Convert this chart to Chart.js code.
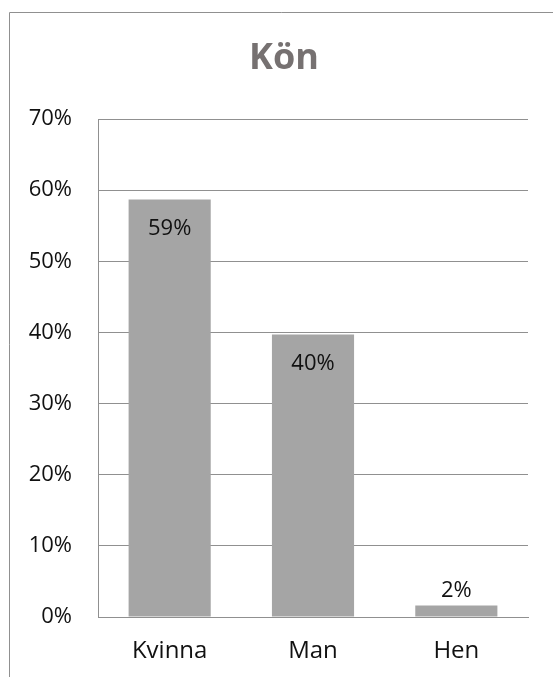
<!DOCTYPE html>
<html>
<head>
<meta charset="utf-8">
<script src="https://cdn.jsdelivr.net/npm/chart.js@4"></script>
<style>
  html, body { margin: 0; padding: 0; background: #fff; }
  #wrap { width: 553px; height: 677px; position: relative; }
</style>
</head>
<body>
<div id="wrap"><canvas id="konChart" width="553" height="677"></canvas></div>
<script>
// data
const categories = ["Kvinna", "Man", "Hen"];
const shares = [0.587, 0.397, 0.016];
const yTicks = [0, 0.1, 0.2, 0.3, 0.4, 0.5, 0.6, 0.7];
const chartTitle = "Kön";

const FONT = "'Open Sans', 'DejaVu Sans', sans-serif";
const LINE = "#909090";

// outer chart border + title + value labels
const decor = {
    id: "decor",
    afterDraw(chart) {
        const ctx = chart.ctx;
        ctx.save();
        ctx.strokeStyle = LINE;
        ctx.lineWidth = 1;
        ctx.beginPath();
        ctx.moveTo(9.5, 677);
        ctx.lineTo(9.5, 12.5);
        ctx.lineTo(553, 12.5);
        ctx.stroke();

        ctx.fillStyle = "#767171";
        ctx.font = "bold 36px " + FONT;
        ctx.textAlign = "center";
        ctx.textBaseline = "middle";
        ctx.fillText(chartTitle, 284, 59);

        ctx.fillStyle = "#111";
        ctx.font = "22px " + FONT;
        const meta = chart.getDatasetMeta(0);
        meta.data.forEach((bar, i) => {
            const txt = Math.round(shares[i] * 100) + "%";
            const h = bar.base - bar.y;
            const y = h > 45 ? bar.y + 29 : bar.y - 15;
            ctx.fillText(txt, bar.x, y);
        });
        ctx.restore();
    }
};

new Chart(document.getElementById("konChart"), {
    type: "bar",
    data: {
        labels: categories,
        datasets: [{
            data: shares,
            backgroundColor: "#a5a5a5",
            borderWidth: 0,
            barPercentage: 0.573,
            categoryPercentage: 1
        }]
    },
    options: {
        responsive: false,
        animation: false,
        layout: { padding: { top: 119, right: 25, left: 0, bottom: 0 } },
        plugins: {
            legend: { display: false },
            tooltip: { enabled: false }
        },
        scales: {
            x: {
                grid: { display: false, drawTicks: false },
                border: { display: true, color: LINE },
                ticks: { color: "#111", font: { family: FONT, size: 24 }, padding: 20 },
                afterFit(s) { s.height = 60; }
            },
            y: {
                min: 0,
                max: 0.7,
                afterBuildTicks(s) { s.ticks = yTicks.map(v => ({ value: v })); },
                grid: { color: LINE, drawTicks: false },
                border: { display: true, color: LINE },
                ticks: {
                    color: "#111",
                    font: { family: FONT, size: 22 },
                    padding: 26,
                    callback: v => Math.round(v * 100) + "%"
                },
                afterFit(s) { s.width = 98; }
            }
        }
    },
    plugins: [decor]
});
</script>
</body>
</html>
